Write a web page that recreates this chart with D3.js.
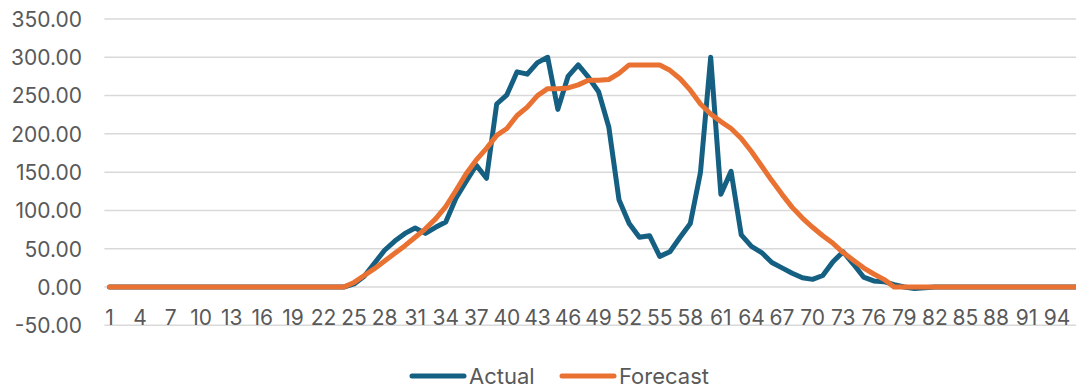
<!DOCTYPE html>
<html>
<head>
<meta charset="utf-8">
<script src="https://cdn.jsdelivr.net/npm/d3@7"></script>
<style>
  html, body { margin: 0; padding: 0; background: #fff; }
  svg { display: block; }
  text { font-family: Inter, "Open Sans", "Liberation Sans", sans-serif; fill: #595959; }
</style>
</head>
<body>
<svg id="chart" width="1076" height="389"></svg>
<script>
// Interval numbers 1..96
const categories = d3.range(1, 97);

// Actual values per interval
const actual = [
  0, 0, 0, 0, 0, 0, 0, 0, 0, 0, 0, 0, 0, 0, 0, 0, 0, 0, 0, 0, 0, 0, 0, 0,
  4, 14, 31, 48, 60, 70, 77, 70, 78, 85, 116, 138, 159, 142, 239, 251, 281, 278,
  293, 300, 232, 275, 290, 274, 255, 209, 114, 83, 65, 67, 40, 46, 65, 83, 150, 300,
  121, 151, 68, 53, 45, 32, 25, 18, 12, 10, 15, 33, 46, 30, 13, 8, 7, 3,
  0, -2, -1, 0, 0, 0, 0, 0, 0, 0, 0, 0, 0, 0, 0, 0, 0, 0
];

// Forecast values per interval
const forecast = [
  0, 0, 0, 0, 0, 0, 0, 0, 0, 0, 0, 0, 0, 0, 0, 0, 0, 0, 0, 0, 0, 0, 0, 0,
  6, 15, 24, 34, 44, 54, 65, 76, 89, 105, 126, 148, 166, 181, 198, 207, 224, 235,
  250, 259, 259, 260, 264, 270, 270, 271, 279, 290, 290, 290, 290, 283, 272, 257, 239, 226,
  216, 207, 194, 177, 158, 139, 121, 104, 90, 78, 67, 57, 45, 35, 25, 17, 10, 0,
  0, 0, 0, 0, 0, 0, 0, 0, 0, 0, 0, 0, 0, 0, 0, 0, 0, 0
];

// Value axis ticks
const yTicks = [-50, 0, 50, 100, 150, 200, 250, 300, 350];

// Category labels shown (every third interval)
const xTickLabels = categories.filter((d, i) => i % 3 === 0);

const svg = d3.select("#chart");

const x = d3.scaleBand()
  .domain(categories)
  .range([104.4, 1082.6])
  .paddingInner(0)
  .paddingOuter(0);

const y = d3.scaleLinear()
  .domain([-50, 350])
  .range([325.3, 19]);

const cx = d => x(d) + x.bandwidth() / 2;

// Horizontal gridlines
svg.append("g")
  .selectAll("line")
  .data(yTicks)
  .join("line")
  .attr("x1", 104.4)
  .attr("x2", 1082.6)
  .attr("y1", d => y(d))
  .attr("y2", d => y(d))
  .attr("stroke", "#d9d9d9")
  .attr("stroke-width", 1.5);

// Value axis labels
const yAxis = d3.axisLeft(y)
  .tickValues(yTicks)
  .tickFormat(d => d.toFixed(2))
  .tickSize(0)
  .tickPadding(0);

const gy = svg.append("g")
  .attr("transform", "translate(82,0)")
  .call(yAxis);
gy.select(".domain").remove();
gy.selectAll("text")
  .attr("font-size", 21)
  .attr("dy", "0.35em")
  .style("fill", "#595959");

// Category axis labels sitting below the zero line
const xAxis = d3.axisBottom(x)
  .tickValues(xTickLabels)
  .tickSize(0)
  .tickPadding(0);

const gx = svg.append("g")
  .attr("transform", `translate(0,${y(0)})`)
  .call(xAxis);
gx.select(".domain").remove();
gx.selectAll("text")
  .attr("font-size", 21)
  .attr("y", 38)
  .attr("dy", 0)
  .style("fill", "#595959");

const line = d3.line()
  .x((d, i) => cx(categories[i]))
  .y(d => y(d));

const series = [
  { name: "Actual", values: actual, color: "#156082" },
  { name: "Forecast", values: forecast, color: "#E97132" }
];

svg.append("g")
  .selectAll("path")
  .data(series)
  .join("path")
  .attr("d", d => line(d.values))
  .attr("fill", "none")
  .attr("stroke", d => d.color)
  .attr("stroke-width", 5)
  .attr("stroke-linejoin", "round")
  .attr("stroke-linecap", "round");

// Legend
const legend = svg.append("g");
const legendPos = [
  { x1: 412, x2: 464, tx: 469 },
  { x1: 562, x2: 614, tx: 619 }
];
series.forEach((s, i) => {
  const p = legendPos[i];
  legend.append("line")
    .attr("x1", p.x1).attr("x2", p.x2)
    .attr("y1", 376).attr("y2", 376)
    .attr("stroke", s.color)
    .attr("stroke-width", 5)
    .attr("stroke-linecap", "round");
  legend.append("text")
    .attr("x", p.tx)
    .attr("y", 376)
    .attr("dy", "0.35em")
    .attr("font-size", 22)
    .text(s.name);
});
</script>
</body>
</html>
